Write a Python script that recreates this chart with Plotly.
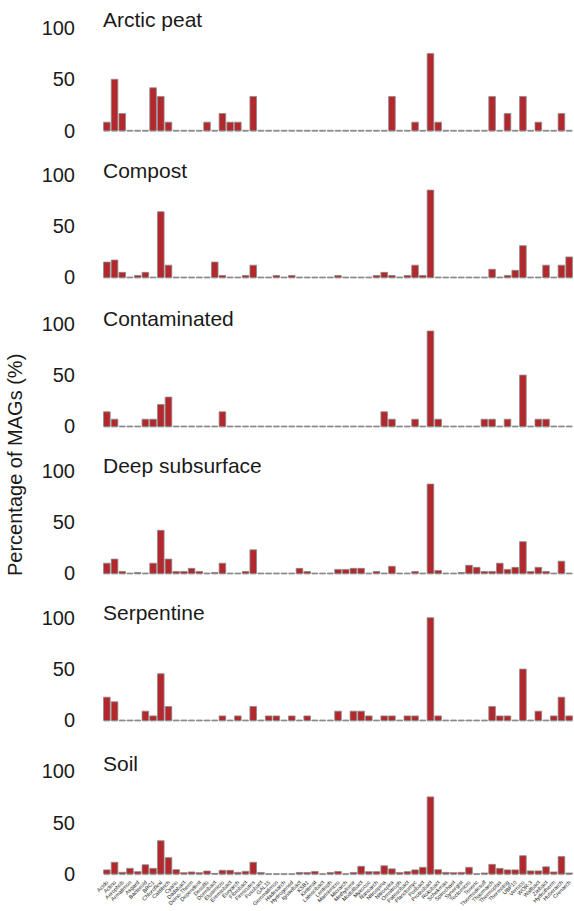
import plotly.graph_objects as go

# ---------------- data ----------------
categories = [
    "Acido", "Actino", "Aerophob", "Armatimon", "Asgard",
    "Bacteroid", "BRC1", "Chloroflexi", "Calditrich", "Cyano",
    "Dadabact", "Deino-Therm", "Dependent", "Desulfo", "Dormibact",
    "Elusimicro", "Eremiobact", "Euryarch", "Fibrobact", "Firmicutes",
    "Fusobact", "GAL15", "Gemmatimon", "Hadesarch", "Hydrogened",
    "Ignavibact", "KSB1", "Kiritimat", "Latescibact", "Lentisph",
    "Marinimicro", "Micrarch", "Methylomir", "Modulibact", "Myxococ",
    "Nanoarch", "Nitrospina", "Nitrospira", "Omnitroph", "Patescibact",
    "Planctomyc", "Poribact", "Proteobact", "Rokubact", "Schekman",
    "Spirochaet", "Synergist", "Tectomicro", "Teneric", "Thermodesulf",
    "Thaumarch", "Thermoplas", "Thermotog", "UBP10", "Verruco",
    "WOR-3", "Wallbact", "Zixibact", "Hydrotherm", "Huberarch",
    "Crenarch",
]

panel_names = ["Arctic peat", "Compost", "Contaminated", "Deep subsurface", "Serpentine", "Soil"]

def series(d):
    return [d.get(i, 0) for i in range(len(categories))]

arctic_peat = series({0: 8.3, 1: 50, 2: 16.7, 6: 41.7, 7: 33.3, 8: 8.3, 13: 8.3, 15: 16.7,
                      16: 8.3, 17: 8.3, 19: 33.3, 37: 33.3, 40: 8.3, 42: 75, 43: 8.3,
                      50: 33.3, 52: 16.7, 54: 33.3, 56: 8.3, 59: 16.7})
compost = series({0: 15, 1: 17, 2: 5, 4: 2, 5: 5, 7: 64, 8: 12, 14: 15, 15: 2, 18: 2, 19: 12,
                  22: 2, 24: 2, 30: 2, 35: 2, 36: 5, 37: 2, 39: 2, 40: 12, 41: 2, 42: 85,
                  50: 8, 52: 2, 53: 7, 54: 31, 57: 12, 59: 12, 60: 20})
contaminated = series({0: 14.3, 1: 7.1, 5: 7.1, 6: 7.1, 7: 21.4, 8: 28.6, 15: 14.3, 36: 14.3,
                       37: 7.1, 40: 7.1, 42: 92.9, 43: 7.1, 49: 7.1, 50: 7.1, 52: 7.1,
                       54: 50, 56: 7.1, 57: 7.1})
deep_subsurface = series({0: 10, 1: 14, 2: 2, 4: 1, 6: 10, 7: 42, 8: 14, 9: 2, 10: 2, 11: 5,
                          12: 2, 14: 1, 15: 10, 18: 2, 19: 23, 25: 5, 26: 2, 30: 4, 31: 4,
                          32: 5, 33: 5, 35: 2, 37: 7, 40: 2, 42: 87, 43: 3, 46: 1, 47: 8,
                          48: 6, 49: 2, 50: 2, 51: 10, 52: 4, 53: 6, 54: 31, 55: 2, 56: 6,
                          57: 2, 59: 12})
serpentine = series({0: 22.7, 1: 18.2, 5: 9.1, 6: 4.5, 7: 45.5, 8: 13.6, 15: 4.5, 17: 4.5,
                     19: 13.6, 21: 4.5, 22: 4.5, 24: 4.5, 26: 4.5, 30: 9.1, 32: 9.1, 33: 9.1,
                     34: 4.5, 36: 4.5, 37: 4.5, 39: 4.5, 40: 4.5, 42: 100, 43: 4.5, 50: 13.6,
                     51: 4.5, 52: 4.5, 54: 50, 56: 9.1, 58: 4.5, 59: 22.7, 60: 4.5})
soil = series({0: 4, 1: 11.4, 2: 1.7, 3: 5.5, 4: 2.3, 5: 9, 6: 5.5, 7: 32.4, 8: 15.9, 9: 4.2,
               10: 1.3, 11: 2, 12: 1.3, 13: 2.9, 14: 0.6, 15: 3.6, 16: 3.6, 17: 1.6, 18: 2.6,
               19: 11.4, 20: 1.5, 25: 1.5, 26: 1.5, 27: 2.5, 29: 1.5, 30: 2.5, 32: 1.5,
               33: 7.5, 34: 2.3, 35: 2.3, 36: 8, 37: 5, 38: 1.5, 39: 2.3, 40: 4, 41: 6.5,
               42: 75, 43: 4.2, 44: 1.6, 45: 1.3, 46: 1.6, 47: 6.5, 49: 1, 50: 9.4, 51: 5.5,
               52: 4, 53: 4, 54: 17.8, 55: 3, 56: 3, 57: 7, 58: 2, 59: 17, 60: 1})

panels = [arctic_peat, compost, contaminated, deep_subsurface, serpentine, soil]
y_ticks = [0, 50, 100]

# ---------------- layout geometry ----------------
W, HTOT = 574, 911
ML, MR, MT, MB = 103, 1, 0, 33
H = HTOT - MT - MB
PW = W - ML - MR
baselines_px = [130.7, 277.5, 426.5, 573.5, 720.5, 874.0]
PX_PER_UNIT = 1.028
Y_LO, Y_HI = -3, 103
title_px = [20, 170, 318, 465, 612, 763]

FONT = "Liberation Sans, Arial, sans-serif"
BAR_COLOR = "#b3282d"

fig = go.Figure()
layout = dict(
    width=W, height=HTOT, autosize=False,
    margin=dict(l=ML, r=MR, t=MT, b=MB, pad=0, autoexpand=False),
    paper_bgcolor="white", plot_bgcolor="white",
    showlegend=False, barmode="overlay",
    font=dict(family=FONT, color="#1a1a1a"),
    annotations=[],
)

for k, (vals, name) in enumerate(zip(panels, panel_names)):
    ax = "" if k == 0 else str(k + 1)
    xa, ya = "x" + ax, "y" + ax
    # zero baseline dashes (one small grey dash per category)
    fig.add_trace(go.Bar(x=categories, y=[1.3] * len(categories), base=-0.65,
                         width=0.74, marker=dict(color="#a9a9a9", line=dict(width=0)),
                         xaxis=xa, yaxis=ya, hoverinfo="skip"))
    fig.add_trace(go.Bar(x=categories, y=vals, width=0.86, name=name,
                         marker=dict(color=BAR_COLOR, line=dict(color="#8c8c8c", width=0.8)),
                         xaxis=xa, yaxis=ya))
    base = baselines_px[k]
    bot = base - Y_LO * PX_PER_UNIT
    top = base - Y_HI * PX_PER_UNIT
    dom = [1 - (bot - MT) / H, 1 - (top - MT) / H]
    layout["xaxis" + ax] = dict(
        domain=[0, 1], anchor=ya, type="category", range=[-0.5, len(categories) - 0.5],
        showgrid=False, zeroline=False, showline=False, ticks="", automargin=False,
        showticklabels=(k == len(panels) - 1), tickangle=-45,
        tickfont=dict(size=5.5, family=FONT, color="#222222"),
    )
    layout["yaxis" + ax] = dict(
        domain=dom, anchor=xa, range=[Y_LO, Y_HI], tickvals=y_ticks,
        showgrid=False, zeroline=False, showline=False, ticks="", automargin=False,
        ticklabelstandoff=27, tickfont=dict(size=20, family=FONT, color="#1a1a1a"),
    )
    layout["annotations"].append(dict(
        text=name, xref="paper", yref="paper", x=(101 - ML) / PW, y=1 - (title_px[k] - MT) / H,
        xanchor="left", yanchor="middle", showarrow=False,
        font=dict(size=21, family=FONT, color="#1a1a1a")))

layout["annotations"].append(dict(
    text="Percentage of MAGs (%)", xref="paper", yref="paper",
    x=(15 - ML) / PW, y=1 - (465 - MT) / H, xanchor="center", yanchor="middle",
    textangle=-90, showarrow=False, font=dict(size=20, family=FONT, color="#1a1a1a")))

fig.update_layout(**layout)
fig.write_html("out.html")
